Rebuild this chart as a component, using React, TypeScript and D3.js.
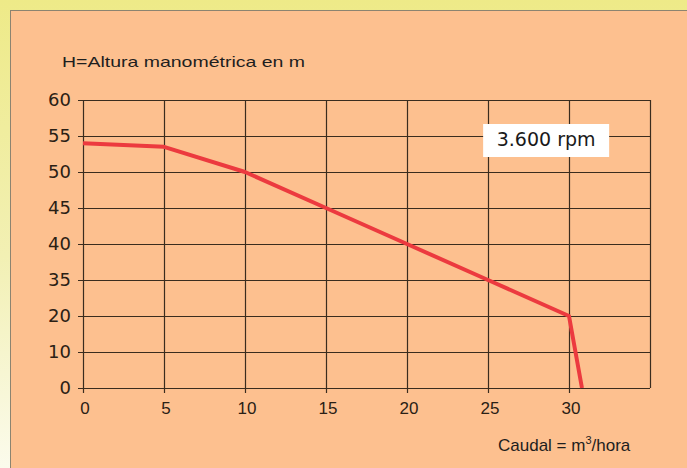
import { useEffect, useRef } from "react";
import * as d3 from "d3";

// caudal (m3/hora) vs altura manométrica (m)
const flow = [0, 5, 10, 15, 20, 25, 30, 30.8];
const head = [54, 53.5, 50, 45, 40, 35, 20, 0];

const xTicks = [0, 5, 10, 15, 20, 25, 30];
const xGrid = [0, 5, 10, 15, 20, 25, 30, 35];
// the original axis is not linear: labels are evenly spaced
const yTicks = [0, 10, 20, 35, 40, 45, 50, 55, 60];

const PumpCurve = () => {
  const svgRef = useRef<SVGSVGElement>(null);

  useEffect(() => {
    const svg = d3.select(svgRef.current);
    svg.selectAll("*").remove();

    const W = 687;
    const H = 468;
    const margin = { top: 100, right: 37, bottom: 80, left: 83 };
    const width = W - margin.left - margin.right;
    const height = H - margin.top - margin.bottom;

    svg.attr("width", W).attr("height", H);

    // background
    const defs = svg.append("defs");
    const grad = defs.append("linearGradient")
      .attr("id", "bgGrad")
      .attr("x1", 0).attr("y1", 0).attr("x2", 0).attr("y2", 1);
    grad.append("stop").attr("offset", "0%").attr("stop-color", "#eeea88");
    grad.append("stop").attr("offset", "55%").attr("stop-color", "#f2f0b4");
    grad.append("stop").attr("offset", "100%").attr("stop-color", "#fbfbec");

    svg.append("rect")
      .attr("width", W).attr("height", H)
      .attr("fill", "url(#bgGrad)");

    svg.append("rect")
      .attr("x", 10.5).attr("y", 10.5)
      .attr("width", W).attr("height", H)
      .attr("fill", "#fdc08f")
      .attr("stroke", "#8c8470")
      .attr("stroke-width", 1);

    const g = svg.append("g")
      .attr("transform", `translate(${margin.left},${margin.top})`);

    const x = d3.scaleLinear().domain([0, 35]).range([0, width]);
    const y = d3.scaleLinear()
      .domain(yTicks)
      .range(yTicks.map((_, i) => height - (i * height) / (yTicks.length - 1)));

    const gridColor = "#3a2c1e";

    // horizontal grid + left ticks
    g.append("g")
      .selectAll("line")
      .data(yTicks)
      .join("line")
      .attr("x1", -5)
      .attr("x2", width)
      .attr("y1", (d) => Math.round(y(d)) + 0.5)
      .attr("y2", (d) => Math.round(y(d)) + 0.5)
      .attr("stroke", gridColor)
      .attr("stroke-width", 1.2);

    // vertical grid + bottom ticks
    g.append("g")
      .selectAll("line")
      .data(xGrid)
      .join("line")
      .attr("x1", (d) => Math.round(x(d)) + 0.5)
      .attr("x2", (d) => Math.round(x(d)) + 0.5)
      .attr("y1", 0)
      .attr("y2", (d) => (d === 35 ? height : height + 5))
      .attr("stroke", gridColor)
      .attr("stroke-width", 1.2);

    // y labels
    g.append("g")
      .selectAll("text")
      .data(yTicks)
      .join("text")
      .attr("x", -12)
      .attr("y", (d) => y(d))
      .attr("dy", "0.36em")
      .attr("text-anchor", "end")
      .attr("font-family", "DejaVu Sans, Verdana, sans-serif")
      .attr("font-size", 18)
      .attr("fill", "#2a2015")
      .text((d) => d);

    // x labels
    g.append("g")
      .selectAll("text")
      .data(xTicks)
      .join("text")
      .attr("x", (d) => x(d) + 2)
      .attr("y", height + 26)
      .attr("text-anchor", "middle")
      .attr("font-family", "Liberation Sans, Arial, sans-serif")
      .attr("font-size", 17)
      .attr("fill", "#2a2015")
      .text((d) => d);

    // curve
    const pts = flow.map((f, i) => [f, head[i]] as [number, number]);
    const line = d3.line<[number, number]>()
      .x((d) => x(d[0]))
      .y((d) => y(d[1]));

    g.append("path")
      .datum(pts)
      .attr("d", line)
      .attr("fill", "none")
      .attr("stroke", "#ec3a3f")
      .attr("stroke-width", 4)
      .attr("stroke-linejoin", "round");

    // rpm label
    g.append("rect")
      .attr("x", x(24.7))
      .attr("y", 24)
      .attr("width", 126)
      .attr("height", 33)
      .attr("fill", "#ffffff");

    g.append("text")
      .attr("x", x(24.7) + 63)
      .attr("y", 46)
      .attr("text-anchor", "middle")
      .attr("font-family", "DejaVu Sans, Verdana, sans-serif")
      .attr("font-size", 19)
      .attr("fill", "#1a1a1a")
      .text("3.600 rpm");

    // axis titles
    svg.append("text")
      .attr("x", 62)
      .attr("y", 67)
      .attr("font-family", "Liberation Sans, Arial, sans-serif")
      .attr("font-size", 15)
      .attr("textLength", 243)
      .attr("lengthAdjust", "spacingAndGlyphs")
      .attr("fill", "#1e1e1e")
      .text("H=Altura manométrica en m");

    const cap = svg.append("text")
      .attr("x", 498)
      .attr("y", 451)
      .attr("font-family", "Liberation Sans, Arial, sans-serif")
      .attr("font-size", 17)
      .attr("fill", "#1e1e1e");
    cap.append("tspan").text("Caudal = m");
    cap.append("tspan").attr("dy", -7).attr("font-size", 11).text("3");
    cap.append("tspan").attr("dy", 7).text("/hora");
  }, []);

  return <svg ref={svgRef} style={{ display: "block" }}></svg>;
};

export default function App() {
  return (
    <div style={{ position: "absolute", left: 0, top: 0 }}>
      <PumpCurve />
    </div>
  );
}
